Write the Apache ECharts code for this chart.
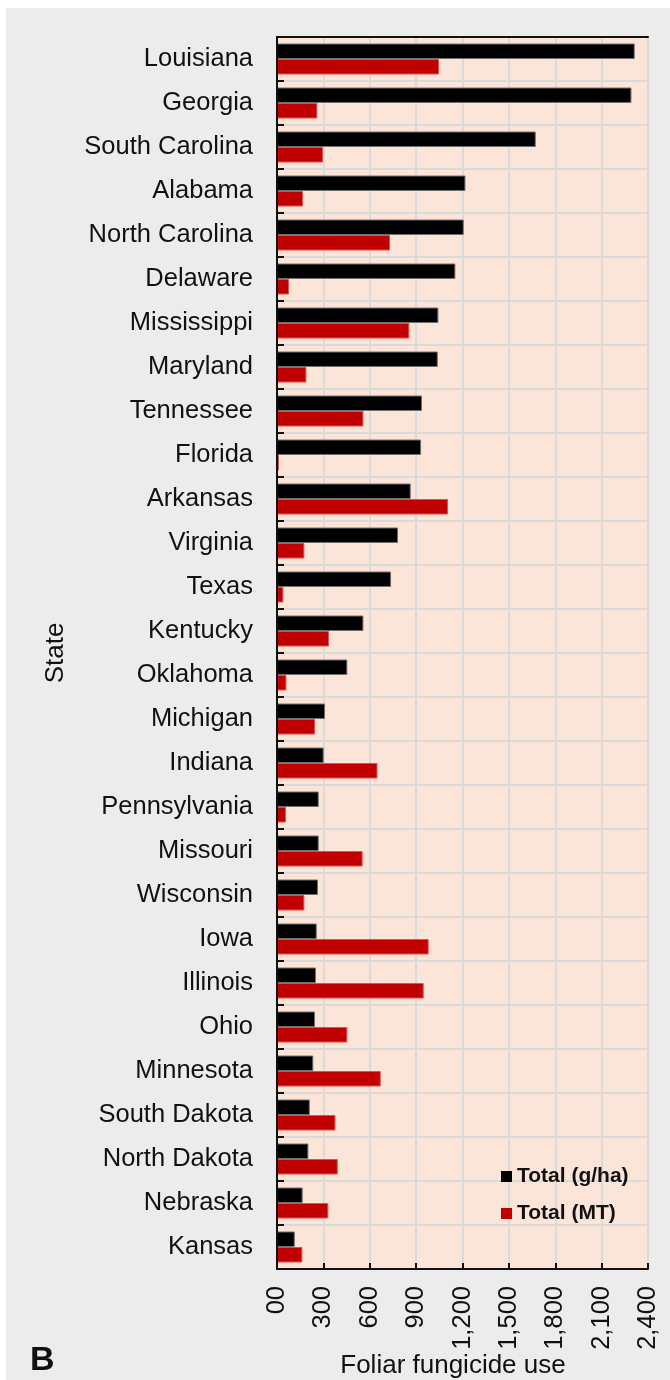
<!DOCTYPE html>
<html>
<head>
<meta charset="utf-8">
<script src="https://cdn.jsdelivr.net/npm/echarts@6/dist/echarts.min.js"></script>
<style>
  html, body { margin: 0; padding: 0; background: #ffffff; }
  #panel { position: absolute; left: 6px; top: 8px; width: 664px; height: 1372px; background: #ececec; }
  #chart { position: absolute; left: 0; top: 0; width: 670px; height: 1380px; }
</style>
</head>
<body>
<div id="panel"></div>
<div id="chart"></div>
<script>
// States, ordered from highest to lowest g/ha
const states = [
  'Louisiana', 'Georgia', 'South Carolina', 'Alabama', 'North Carolina', 'Delaware',
  'Mississippi', 'Maryland', 'Tennessee', 'Florida', 'Arkansas', 'Virginia', 'Texas',
  'Kentucky', 'Oklahoma', 'Michigan', 'Indiana', 'Pennsylvania', 'Missouri', 'Wisconsin',
  'Iowa', 'Illinois', 'Ohio', 'Minnesota', 'South Dakota', 'North Dakota', 'Nebraska', 'Kansas'
];
// Total foliar fungicide use per area (g/ha)
const totalGha = [
  2314, 2293, 1674, 1219, 1208, 1154, 1044, 1040, 938, 932, 865, 783, 738,
  559, 455, 311, 302, 270, 270, 265, 257, 252, 246, 235, 212, 203, 166, 115
];
// Total foliar fungicide use (metric tons)
const totalMt = [
  1048, 261, 298, 168, 731, 78, 856, 190, 559, 13, 1106, 177, 41,
  336, 61, 246, 650, 58, 554, 177, 981, 949, 455, 671, 378, 393, 332, 164
];
const seriesNames = ['Total (g/ha)', 'Total (MT)'];
const xTickLabels = ['00', '300', '600', '900', '1,200', '1,500', '1,800', '2,100', '2,400'];
const xAxisTitle = 'Foliar fungicide use';
const yAxisTitle = 'State';
const panelLetter = 'B';

const font = '"Liberation Sans", Arial, sans-serif';
const chart = echarts.init(document.getElementById('chart'), null, { renderer: 'canvas' });

// Frame-only axes on the top and right edges of the plot, drawn above the bars
const frameAxis = {
  axisLine: { show: true, lineStyle: { color: '#111', width: 2 } },
  axisTick: { show: false },
  axisLabel: { show: false },
  splitLine: { show: false },
  z: 5
};

chart.setOption({
  backgroundColor: 'transparent',
  animation: false,
  textStyle: { fontFamily: font, color: '#111' },
  grid: {
    left: 277, right: 22, top: 37, bottom: 111,
    show: true,
    backgroundColor: '#fbe5d8',
    borderWidth: 0
  },
  legend: {
    orient: 'vertical',
    left: 501,
    top: 1166,
    padding: 0,
    icon: 'rect',
    itemWidth: 11,
    itemHeight: 11,
    itemGap: 16,
    data: seriesNames,
    itemStyle: { borderWidth: 0 },
    textStyle: { fontFamily: font, fontSize: 21, fontWeight: 'bold', color: '#111', lineHeight: 21 }
  },
  xAxis: [
    {
      type: 'value',
      min: 0,
      max: 2400,
      interval: 300,
      axisLine: { show: true, lineStyle: { color: '#111', width: 2 } },
      axisTick: { show: true, inside: true, length: 6, lineStyle: { color: '#111', width: 2 } },
      splitLine: { show: true, lineStyle: { color: '#dadada', width: 2 } },
      axisLabel: {
        rotate: 90,
        margin: 17,
        fontSize: 25.5,
        fontFamily: font,
        color: '#111',
        formatter: (v) => xTickLabels[Math.round(v / 300)]
      }
    },
    Object.assign({ type: 'value', position: 'top', min: 0, max: 2400 }, frameAxis)
  ],
  yAxis: [
    {
      type: 'category',
      data: states,
      inverse: true,
      axisLine: { show: true, lineStyle: { color: '#111', width: 2 } },
      axisTick: { show: true, inside: true, length: 7, lineStyle: { color: '#111', width: 2 } },
      splitLine: { show: true, lineStyle: { color: '#dadada', width: 2 } },
      axisLabel: { margin: 24, fontSize: 25.5, fontFamily: font, color: '#111' }
    },
    Object.assign({ type: 'value', position: 'right', min: 0, max: 1 }, frameAxis)
  ],
  series: [
    {
      name: seriesNames[0],
      type: 'bar',
      data: totalGha,
      barWidth: 15.5,
      barGap: '0%',
      itemStyle: { color: '#000000', borderColor: '#707070', borderWidth: 1 }
    },
    {
      name: seriesNames[1],
      type: 'bar',
      data: totalMt,
      barWidth: 15.5,
      barGap: '0%',
      itemStyle: { color: '#c00000', borderColor: '#e05050', borderWidth: 1 }
    }
  ],
  graphic: [
    {
      type: 'text',
      x: 453, y: 1366,
      style: { text: xAxisTitle, font: '26px ' + font, fill: '#111', textAlign: 'center', textVerticalAlign: 'middle' }
    },
    {
      type: 'text',
      x: 56, y: 653,
      rotation: Math.PI / 2,
      style: { text: yAxisTitle, font: '26px ' + font, fill: '#111', textAlign: 'center', textVerticalAlign: 'middle' }
    },
    {
      type: 'text',
      x: 30, y: 1361,
      style: { text: panelLetter, font: 'bold 34px ' + font, fill: '#111', textAlign: 'left', textVerticalAlign: 'middle' }
    }
  ]
});
</script>
</body>
</html>
